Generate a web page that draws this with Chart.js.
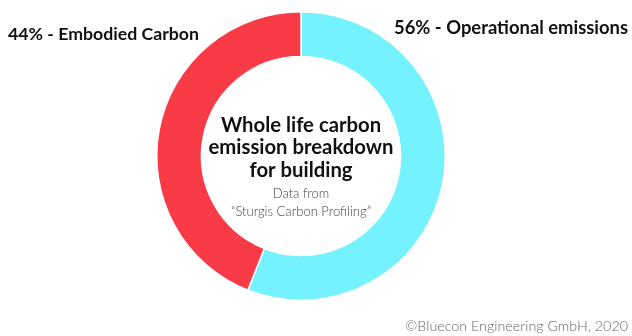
<!DOCTYPE html>
<html>
<head>
<meta charset="utf-8">
<script src="https://cdn.jsdelivr.net/npm/chart.js@4"></script>
<style>
  html, body { margin: 0; padding: 0; background: #ffffff; }
  #wrap { width: 632px; height: 336px; position: relative; }
</style>
</head>
<body>
<div id="wrap"><canvas id="grafico"></canvas></div>
<script>
// Datos de la gráfica
const categorias = ["Operational emissions", "Embodied Carbon"];
const porcentajes = [56, 44];
const colores = ["#74f2fe", "#f93a47"];

// Textos
const tituloCentro = ["Whole life carbon", "emission breakdown", "for building"];
const subtituloCentro = ["Data from", "\u201cSturgis Carbon Profiling\u201d"];
const creditos = "\u00a9Bluecon Engineering GmbH, 2020";

// Plugin para dibujar textos (etiquetas, título central y créditos)
const textosPlugin = {
    id: 'textos',
    afterDraw(chart) {
        const ctx = chart.ctx;
        const arco = chart.getDatasetMeta(0).data[0];
        const cx = arco.x, cy = arco.y;
        ctx.save();
        ctx.fillStyle = "#111111";
        ctx.textBaseline = "middle";

        // Etiquetas de cada segmento
        ctx.font = "bold 18.4px Lato";
        ctx.textAlign = "right";
        ctx.fillText(`${porcentajes[0]}% - ${categorias[0]}`, 628, 28);
        ctx.font = "bold 17.7px Lato";
        ctx.textAlign = "left";
        ctx.fillText(`${porcentajes[1]}% - ${categorias[1]}`, 8, 34);

        // Título central
        ctx.textAlign = "center";
        ctx.font = "bold 20.3px Lato";
        tituloCentro.forEach((linea, i) => {
            ctx.fillText(linea, cx, cy - 31 + i * 22.5);
        });

        // Subtítulo
        ctx.fillStyle = "#444444";
        ctx.font = "300 13px Lato";
        subtituloCentro.forEach((linea, i) => {
            ctx.fillText(linea, cx, cy + 38 + i * 18);
        });

        // Créditos
        ctx.textAlign = "right";
        ctx.fillStyle = "#666666";
        ctx.font = "300 14.3px Lato";
        ctx.fillText(creditos, 628, 326);
        ctx.restore();
    }
};

const ctx = document.getElementById("grafico").getContext("2d");
const chart = new Chart(ctx, {
    type: 'doughnut',
    data: {
        labels: categorias,
        datasets: [{
            data: porcentajes,
            backgroundColor: colores,
            borderColor: "#ffffff",
            borderWidth: 1.5
        }]
    },
    options: {
        responsive: true,
        maintainAspectRatio: false,
        animation: false,
        cutout: '69%',
        layout: { padding: { left: 0, right: 30, top: 11, bottom: 35 } },
        plugins: {
            legend: { display: false },
            tooltip: { enabled: false }
        }
    },
    plugins: [textosPlugin]
});
</script>
</body>
</html>
